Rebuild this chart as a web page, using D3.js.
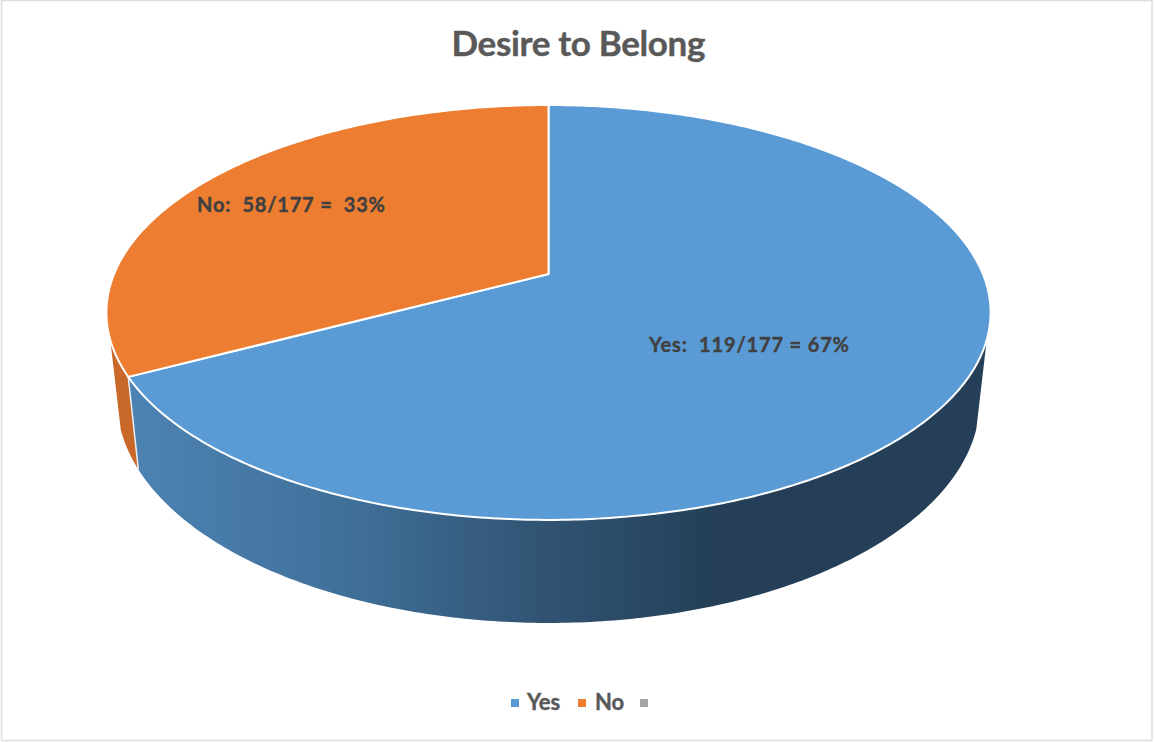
<!DOCTYPE html>
<html><head><meta charset="utf-8">
<script src="https://cdn.jsdelivr.net/npm/d3@7/dist/d3.min.js"></script>
<style>html,body{margin:0;padding:0;background:#fff}svg{display:block}text{font-family:Lato,"Open Sans",sans-serif;font-weight:700;stroke-width:0.4px;paint-order:stroke}</style>
</head><body><svg id="c" width="1154" height="742"></svg>
<script>
const categories = ["Yes", "No", ""];
const values = [119, 58, 0];
const labels = ["Yes:  119/177 = 67%", "No:  58/177 =  33%"];
const colors = ["#5b9bd5", "#ed7d31", "#a5a5a5"];
const title = "Desire to Belong";

const svg = d3.select("#c");
svg.append("rect").attr("x",1.5).attr("y",0.5).attr("width",1150.5).attr("height",740)
  .attr("fill","#fff").attr("stroke","#dedede").attr("stroke-width",1.5);

const k = 0.1855;
const top_ = {cx:548.5, cy:274, A:434.4, B:200.3};
const bot = {cx:548.5, cy:359, A:424, B:215};
const proj = (d,t) => { const u=Math.sin(t), v=-Math.cos(t), w=1-k*v; return [d.cx+d.A*u/w, d.cy+d.B*v/w]; };
const arcPts = (d,a,b) => { const n=Math.max(2,Math.ceil(Math.abs(b-a)*90)); return d3.range(n+1).map(i=>proj(d,a+(b-a)*i/n)); };
const line = d3.line();

const arcs = d3.pie().sort(null).value(v=>v)(values);
const yes = arcs[0], no = arcs[1];
const silR = 108*Math.PI/180, silL = 252*Math.PI/180;

const defs = svg.append("defs");
const g = defs.append("linearGradient").attr("id","sideBlue").attr("gradientUnits","userSpaceOnUse")
  .attr("x1",137).attr("x2",720).attr("y1",0).attr("y2",0);
[[0,"#4c82b2"],[0.35,"#40719b"],[0.65,"#335778"],[1,"#243f57"]].forEach(s=>g.append("stop").attr("offset",s[0]).attr("stop-color",s[1]));

// side walls
const side = (a,b) => line(arcPts(top_,a,b).concat(arcPts(bot,b,a)))+"Z";
svg.append("path").attr("d",side(no.startAngle,silL)).attr("fill","#c8692a");
svg.append("path").attr("d",side(silR,yes.endAngle)).attr("fill","url(#sideBlue)");
const e0=proj(top_,yes.endAngle), e1=proj(bot,yes.endAngle);
svg.append("path").attr("d",line([e0,e1])).attr("stroke","#e8eef4").attr("stroke-width",1.5).attr("fill","none");

// top faces
const c=[top_.cx,top_.cy];
arcs.filter(d=>d.value>0).forEach((d,i)=>{
  svg.append("path").attr("d",line([c].concat(arcPts(top_,d.startAngle,d.endAngle)))+"Z")
    .attr("fill",colors[i]).attr("stroke","#fff").attr("stroke-width",2).attr("stroke-linejoin","round");
});

// labels
svg.append("text").attr("x",649).attr("y",352).attr("font-size",20).attr("fill","#404040").attr("stroke","#404040").attr("textLength",200).style("white-space","pre").text(labels[0]);
svg.append("text").attr("x",197).attr("y",212).attr("font-size",20).attr("fill","#404040").attr("stroke","#404040").attr("textLength",188).style("white-space","pre").text(labels[1]);
svg.append("text").attr("x",578.5).attr("y",56).attr("text-anchor","middle").attr("font-size",35).attr("fill","#595959").attr("stroke","#595959").attr("textLength",254).text(title);

// legend
const legX=[511,578,640], txtX=[527,595];
categories.forEach((cat,i)=>{
  svg.append("rect").attr("x",legX[i]).attr("y",699).attr("width",8).attr("height",8).attr("fill",colors[i]);
  if(cat) svg.append("text").attr("x",txtX[i]).attr("y",710).attr("font-size",22).attr("fill","#595959").attr("stroke","#595959").text(cat);
});
</script></body></html>
